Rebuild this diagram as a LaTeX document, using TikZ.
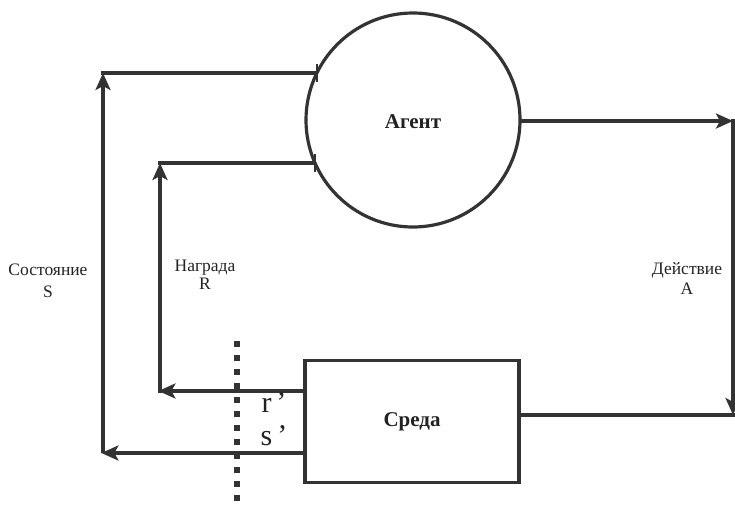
\documentclass[tikz,border=0pt]{standalone}
\usepackage{fontspec}
\setmainfont{Liberation Serif}
\usetikzlibrary{arrows.meta}
\definecolor{ln}{HTML}{333333}
\definecolor{tx}{HTML}{222222}
\begin{document}
\begin{tikzpicture}[x=1pt,y=-1pt,
  wire/.style={draw=ln,line width=3.2pt},
  arr/.style={wire,-{Stealth[length=17pt,width=15pt,inset=4pt]}},
  lbl/.style={text=tx,font=\fontsize{17.5}{19}\selectfont,inner sep=0pt},
  big/.style={text=tx,font=\fontsize{30}{32}\selectfont,inner sep=0pt},
  tick/.style={draw=ln,line width=2.5pt}]
\useasboundingbox (0,0) rectangle (735,504);
% nodes
\node[circle,draw=ln,line width=3.2pt,minimum size=214pt,inner sep=0pt] (agent) at (413,120) {};
\node[text=tx,font=\bfseries\fontsize{21}{23}\selectfont] (agentlbl) at (413,122) {Агент};
\node[rectangle,draw=ln,line width=3.2pt,minimum width=214pt,minimum height=122pt,inner sep=0pt] (env) at (412,421.5) {};
\node[text=tx,font=\bfseries\fontsize{21}{23}\selectfont] (envlbl) at (412,422) {Среда};
% coordinates
\coordinate (aS) at (317,73);
\coordinate (aR) at (315,163);
\coordinate (aA) at (520,121);
\coordinate (sTop) at (103,73);
\coordinate (sBot) at (103,453);
\coordinate (rTop) at (160,163);
\coordinate (rBot) at (160,391);
\coordinate (eR) at (305,391);
\coordinate (eS) at (305,453);
\coordinate (eA) at (519,415);
\coordinate (AT) at (733,121);
\coordinate (AB) at (733,415);
% state loop
\draw[arr] (eS) -- ([xshift=-1.6pt]sBot);
\draw[arr] (sBot) -- (sTop);
\draw[wire] ([xshift=-1.6pt]sTop) -- (aS);
\draw[tick] (aS) ++(0,-9) -- ++(0,18);
% reward loop
\draw[arr] (eR) -- ([xshift=-1.6pt]rBot);
\draw[arr] ([yshift=-1.6pt]rBot) -- (rTop);
\draw[wire] ([xshift=-1.6pt]rTop) -- (aR);
\draw[tick] (aR) ++(0,-9) -- ++(0,18);
% action
\draw[arr] (aA) -- (AT);
\draw[arr] ([yshift=1.6pt]AT) -- (AB);
\draw[wire] (eA) -- ([xshift=1.6pt]AB);
\draw[tick] (eA) ++(0,-8) -- ++(0,16);
% divider
\draw[draw=ln,line width=6pt,dash pattern=on 6pt off 8pt] (237,341) -- (237,504);
% labels
\node[lbl] (sl1) at (48,270) {Состояние};
\node[lbl] (sl2) at (48,292) {S};
\node[lbl] (rl1) at (205,268) {Награда};
\node[lbl] (rl2) at (205,284) {R};
\node[lbl] (al1) at (687,270) {Действие};
\node[lbl] (al2) at (687,289) {A};
\node[big] (rp) at (274,403) {r\,’};
\node[big] (sp) at (274,436) {s\,’};
\end{tikzpicture}
\end{document}
